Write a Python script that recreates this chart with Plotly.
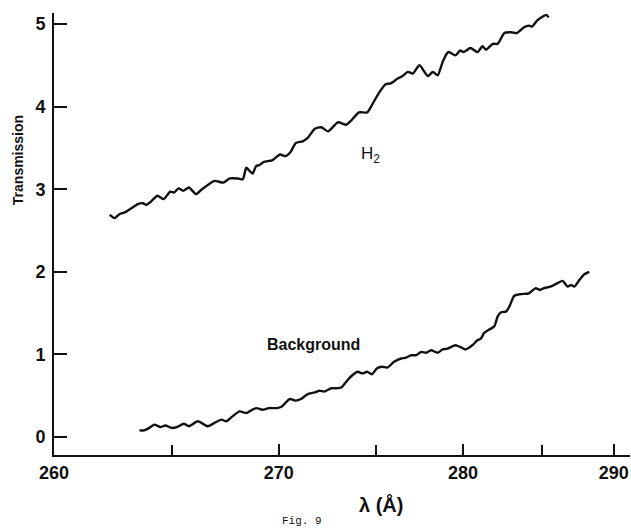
import numpy as np
import plotly.graph_objects as go

# ---- data (wavelength in Angstrom, transmission in arbitrary units) ----
h2_wl = [262.30, 262.51, 262.72, 262.94, 263.22, 263.50, 263.72, 263.86, 264.07, 264.35,
         264.63, 264.92, 265.09, 265.29, 265.50, 265.76, 266.08, 266.31, 266.62, 266.93,
         267.33, 267.64, 268.03, 268.26, 268.42, 268.62, 268.73, 268.89, 269.04, 269.27,
         269.67, 270.06, 270.32, 270.58, 270.84, 271.19, 271.44, 271.79, 272.13, 272.48,
         273.00, 273.43, 273.69, 274.11, 274.55, 274.81, 275.17, 275.55, 275.83, 276.22,
         276.50, 276.79, 277.07, 277.45, 277.93, 278.22, 278.50, 278.79, 279.07, 279.17,
         279.55, 279.83, 280.03, 280.45, 280.87, 281.19, 281.40, 281.82, 282.13, 282.55,
         282.97, 283.35, 283.81, 284.13, 284.34, 284.66, 285.04, 285.27, 285.43]
h2_T = [2.69, 2.65, 2.70, 2.72, 2.77, 2.82, 2.83, 2.81, 2.85, 2.92,
        2.88, 2.97, 2.96, 3.01, 2.98, 3.02, 2.94, 2.99, 3.05, 3.10,
        3.08, 3.13, 3.13, 3.12, 3.26, 3.21, 3.19, 3.28, 3.29, 3.33,
        3.35, 3.42, 3.40, 3.45, 3.56, 3.58, 3.62, 3.73, 3.75, 3.70,
        3.81, 3.78, 3.83, 3.93, 3.93, 4.02, 4.16, 4.27, 4.28, 4.34,
        4.37, 4.42, 4.40, 4.50, 4.37, 4.42, 4.38, 4.54, 4.65, 4.66,
        4.62, 4.68, 4.66, 4.71, 4.66, 4.73, 4.69, 4.76, 4.76, 4.89,
        4.90, 4.89, 4.96, 4.98, 4.97, 5.04, 5.09, 5.11, 5.08]

bg_wl = [263.57, 263.78, 264.00, 264.21, 264.49, 264.70, 264.99, 265.22, 265.53, 265.76,
         266.16, 266.62, 266.93, 267.25, 267.48, 267.72, 268.10, 268.42, 268.57, 268.89,
         269.20, 269.51, 269.90, 270.15, 270.54, 270.84, 271.10, 271.44, 271.79, 272.04,
         272.30, 272.65, 272.91, 273.17, 273.51, 273.77, 274.03, 274.29, 274.55, 274.81,
         275.07, 275.36, 275.65, 276.02, 276.41, 276.69, 276.98, 277.26, 277.55, 277.84,
         278.12, 278.50, 278.79, 279.07, 279.55, 279.83, 280.13, 280.56, 280.87, 281.08,
         281.29, 281.60, 281.92, 282.13, 282.34, 282.66, 282.87, 283.18, 283.60, 284.13,
         284.55, 284.87, 285.08, 285.55, 285.90, 286.37, 286.72, 286.95, 287.18, 287.53,
         287.88, 288.23]
bg_T = [0.08, 0.08, 0.11, 0.15, 0.12, 0.14, 0.11, 0.12, 0.16, 0.13,
        0.19, 0.13, 0.17, 0.21, 0.19, 0.24, 0.31, 0.29, 0.31, 0.35,
        0.33, 0.35, 0.35, 0.37, 0.46, 0.44, 0.46, 0.52, 0.54, 0.56,
        0.55, 0.59, 0.59, 0.60, 0.69, 0.75, 0.79, 0.77, 0.79, 0.76,
        0.83, 0.85, 0.84, 0.91, 0.95, 0.96, 0.99, 0.99, 1.03, 1.02,
        1.05, 1.02, 1.06, 1.07, 1.11, 1.09, 1.06, 1.11, 1.17, 1.19,
        1.26, 1.30, 1.34, 1.46, 1.51, 1.52, 1.58, 1.71, 1.73, 1.74,
        1.80, 1.78, 1.80, 1.82, 1.85, 1.89, 1.82, 1.84, 1.82, 1.90,
        1.97, 2.00]

x_major_wl = [260, 270, 280, 290]
x_major_text = ["260", "270", "280", "290"]
x_minor_wl = [265, 275, 285]
y_tick_vals = [0, 1, 2, 3, 4, 5]

assert len(h2_wl) == len(h2_T) and len(bg_wl) == len(bg_T)


# The wavelength scale of the original plate is not linear: each 5 A step is
# about 0.905 times as long as the previous one.
def plate(wl):
    wl = np.asarray(wl, dtype=float)
    return 1.0 - 0.905 ** ((wl - 260.0) / 5.0)


FONT = "Liberation Sans, Arial, sans-serif"
INK = "#111111"

fig = go.Figure()
for wl, tr in ((h2_wl, h2_T), (bg_wl, bg_T)):
    fig.add_trace(go.Scatter(
        x=plate(wl), y=tr, mode="lines",
        line=dict(color=INK, width=2.4, shape="spline", smoothing=0.6),
        showlegend=False, hoverinfo="skip"))

fig.update_layout(
    width=631, height=528,
    margin=dict(l=54, r=1, t=13, b=73),
    paper_bgcolor="white", plot_bgcolor="white",
    showlegend=False,
    font=dict(family=FONT, color=INK),
)

fig.update_xaxes(
    range=[float(plate(260)), float(plate(291.2))],
    tickmode="array", tickvals=plate(x_major_wl).tolist(), ticktext=x_major_text,
    ticks="inside", ticklen=11, tickwidth=1.5, tickcolor=INK,
    minor=dict(tickmode="array", tickvals=plate(x_minor_wl).tolist(),
               ticks="inside", ticklen=10, tickwidth=1.5, tickcolor=INK, showgrid=False),
    showline=True, linewidth=2, linecolor=INK,
    showgrid=False, zeroline=False,
    tickfont=dict(family=FONT, size=18, color=INK, weight="bold"),
    ticklabelstandoff=0,
)
fig.update_yaxes(
    range=[-0.218, 5.133],
    tickmode="array", tickvals=y_tick_vals, ticktext=[str(v) for v in y_tick_vals],
    ticks="inside", ticklen=13, tickwidth=1.5, tickcolor=INK,
    showline=True, linewidth=2, linecolor=INK,
    showgrid=False, zeroline=False,
    tickfont=dict(family=FONT, size=18, color=INK, weight="bold"),
    ticklabelstandoff=3,
)

ann = dict(xref="paper", yref="paper", showarrow=False, xanchor="center", yanchor="middle")
fig.add_annotation(ann, x=0.568, y=-0.113, text="λ (Å)",
                   font=dict(family=FONT, size=20, color=INK, weight="bold"))
fig.add_annotation(ann, x=0.4306, y=-0.149, text="Fig. 9",
                   font=dict(family="Liberation Mono, DejaVu Sans Mono, monospace", size=11, color=INK))
fig.add_annotation(ann, x=-0.0625, y=0.667, text="Transmission", textangle=-90,
                   font=dict(family="Liberation Sans Narrow, " + FONT, size=14, color=INK, weight="bold"))
fig.add_annotation(ann, x=0.550, y=0.679, text="H<sub>2</sub>",
                   font=dict(family=FONT, size=17, color=INK))
fig.add_annotation(ann, x=0.450, y=0.251, text="Background",
                   font=dict(family=FONT, size=16, color=INK, weight="bold"))

fig.write_html("out.html", config={"displayModeBar": False},
               post_script="document.body.style.margin='0';")
